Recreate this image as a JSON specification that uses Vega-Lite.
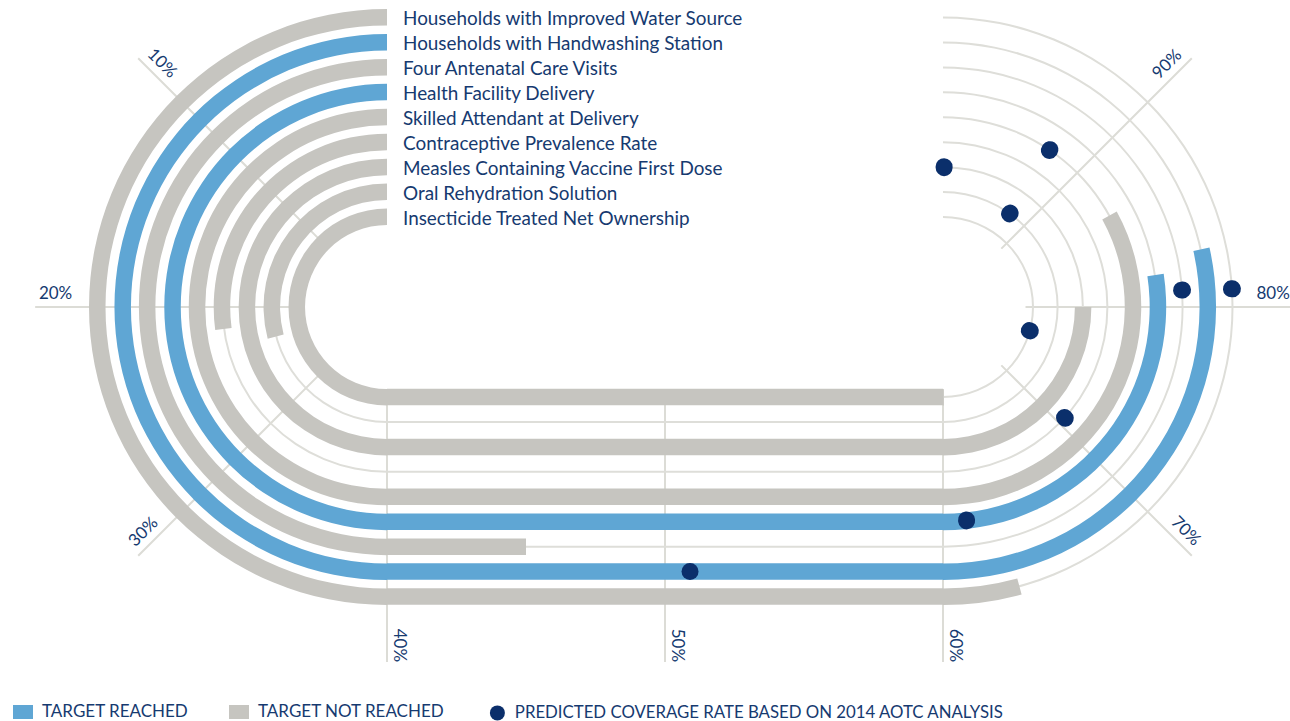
{
  "$schema": "https://vega.github.io/schema/vega-lite/v6.json",
  "width": 1290,
  "height": 614,
  "autosize": {"type": "none"},
  "padding": {"left": 0, "top": 0, "right": 0, "bottom": 107},
  "background": "white",
  "config": {"view": {"stroke": null}, "font": "Lato"},
  "datasets": {
    "tracks": [
      {"track": 1, "indicator": "Households with Improved Water Source", "value": 63.4, "predicted": 80.8, "status": "TARGET NOT REACHED"},
      {"track": 2, "indicator": "Households with Handwashing Station", "value": 82.8, "predicted": 50.9, "status": "TARGET REACHED"},
      {"track": 3, "indicator": "Four Antenatal Care Visits", "value": 45.0, "predicted": 80.9, "status": "TARGET NOT REACHED"},
      {"track": 4, "indicator": "Health Facility Delivery", "value": 81.9, "predicted": 61.4, "status": "TARGET REACHED"},
      {"track": 5, "indicator": "Skilled Attendant at Delivery", "value": 86.4, "predicted": 92.4, "status": "TARGET NOT REACHED"},
      {"track": 6, "indicator": "Contraceptive Prevalence Rate", "value": 21.7, "predicted": 70.6, "status": "TARGET NOT REACHED"},
      {"track": 7, "indicator": "Measles Containing Vaccine First Dose", "value": 80.0, "predicted": 99.9, "status": "TARGET NOT REACHED"},
      {"track": 8, "indicator": "Oral Rehydration Solution", "value": 23.3, "predicted": 92.1, "status": "TARGET NOT REACHED"},
      {"track": 9, "indicator": "Insecticide Treated Net Ownership", "value": 60.1, "predicted": 76.6, "status": "TARGET NOT REACHED"}
    ],
    "ticks": [
      {"pct": 10, "label": "10%"}, {"pct": 20, "label": "20%"}, {"pct": 30, "label": "30%"},
      {"pct": 40, "label": "40%"}, {"pct": 50, "label": "50%"}, {"pct": 60, "label": "60%"},
      {"pct": 70, "label": "70%"}, {"pct": 80, "label": "80%"}, {"pct": 90, "label": "90%"}
    ]
  },
  "resolve": {"scale": {"theta": "independent", "y": "independent"}},
  "layer": [
    {
      "data": {"name": "ticks"},
      "transform": [{"filter": "datum.pct < 40"}],
      "mark": {"type": "arc", "filled": false, "stroke": "#dcdcd6", "strokeWidth": 2},
      "encoding": {
        "x": {"datum": 40, "type": "quantitative", "scale": {"domain": [40, 60], "range": [387, 943], "clamp": true}, "axis": null},
        "theta": {"field": "pct", "type": "quantitative", "stack": null, "scale": {"domain": [0, 40], "range": [0, -3.14159265], "clamp": true}},
        "theta2": {"field": "pct"},
        "radius": {"datum": -1.5, "type": "quantitative", "scale": {"type": "linear", "domain": [1, 9], "range": [289.5, 90], "zero": false}},
        "radius2": {"datum": 9.3}
      }
    },
    {
      "data": {"name": "ticks"},
      "transform": [{"filter": "datum.pct > 60"}],
      "mark": {"type": "arc", "filled": false, "stroke": "#dcdcd6", "strokeWidth": 2},
      "encoding": {
        "x": {"datum": 60, "type": "quantitative", "scale": {"domain": [40, 60], "range": [387, 943], "clamp": true}, "axis": null},
        "theta": {"field": "pct", "type": "quantitative", "stack": null, "scale": {"domain": [60, 100], "range": [3.14159265, 0], "clamp": true}},
        "theta2": {"field": "pct"},
        "radius": {"datum": -1.5, "type": "quantitative", "scale": {"type": "linear", "domain": [1, 9], "range": [289.5, 90], "zero": false}},
        "radius2": {"datum": 9.3}
      }
    },
    {
      "data": {"name": "ticks"},
      "transform": [{"filter": "datum.pct >= 40 && datum.pct <= 60"}],
      "mark": {"type": "rule", "stroke": "#dcdcd6", "strokeWidth": 2},
      "encoding": {
        "x": {"field": "pct", "type": "quantitative", "scale": {"domain": [40, 60], "range": [387, 943], "clamp": true}, "axis": null},
        "y": {"datum": 9.3, "type": "quantitative", "scale": {"domain": [1, 9], "range": [596.5, 397], "zero": false}, "axis": null},
        "y2": {"datum": -1.63}
      }
    },
    {
      "data": {"name": "tracks"},
      "mark": {"type": "arc", "fill": "#deded9", "radiusOffset": 1, "radius2Offset": -1},
      "encoding": {
        "x": {"datum": 40, "type": "quantitative", "scale": {"domain": [40, 60], "range": [387, 943], "clamp": true}, "axis": null},
        "theta": {"datum": 0, "type": "quantitative", "scale": {"domain": [0, 40], "range": [0, -3.14159265], "clamp": true}},
        "theta2": {"datum": 40},
        "radius": {"field": "track", "type": "quantitative", "scale": {"type": "linear", "domain": [1, 9], "range": [289.5, 90], "zero": false}},
        "radius2": {"field": "track"}
      }
    },
    {
      "data": {"name": "tracks"},
      "mark": {"type": "arc", "fill": "#deded9", "radiusOffset": 1, "radius2Offset": -1},
      "encoding": {
        "x": {"datum": 60, "type": "quantitative", "scale": {"domain": [40, 60], "range": [387, 943], "clamp": true}, "axis": null},
        "theta": {"datum": 60, "type": "quantitative", "scale": {"domain": [60, 100], "range": [3.14159265, 0], "clamp": true}},
        "theta2": {"datum": 100},
        "radius": {"field": "track", "type": "quantitative", "scale": {"type": "linear", "domain": [1, 9], "range": [289.5, 90], "zero": false}},
        "radius2": {"field": "track"}
      }
    },
    {
      "data": {"name": "tracks"},
      "mark": {"type": "rule", "stroke": "#deded9", "strokeWidth": 2},
      "encoding": {
        "x": {"datum": 40, "type": "quantitative", "scale": {"domain": [40, 60], "range": [387, 943], "clamp": true}, "axis": null},
        "x2": {"datum": 60},
        "y": {"field": "track", "type": "quantitative", "scale": {"domain": [1, 9], "range": [596.5, 397], "zero": false}, "axis": null}
      }
    },
    {
      "data": {"name": "tracks"},
      "mark": {"type": "arc", "radiusOffset": 8.5, "radius2Offset": -8},
      "encoding": {
        "x": {"datum": 40, "type": "quantitative", "scale": {"domain": [40, 60], "range": [387, 943], "clamp": true}, "axis": null},
        "theta": {"field": "value", "type": "quantitative", "stack": null, "scale": {"domain": [0, 40], "range": [0, -3.14159265], "clamp": true}},
        "theta2": {"datum": 0},
        "radius": {"field": "track", "type": "quantitative", "scale": {"type": "linear", "domain": [1, 9], "range": [289.5, 90], "zero": false}},
        "radius2": {"field": "track"},
        "color": {
          "field": "status", "type": "nominal",
          "scale": {"domain": ["TARGET REACHED", "TARGET NOT REACHED"], "range": ["#5fa6d4", "#c6c5c0"]},
          "legend": {
            "title": null, "orient": "none", "legendX": 13, "legendY": 702, "direction": "horizontal",
            "symbolSize": 400, "symbolType": "M-1,-0.7H1V0.7H-1Z", "symbolStrokeWidth": 0, "symbolOpacity": 1,
            "labelFont": "Lato", "labelFontSize": 17, "labelColor": "#163a70",
            "labelOffset": 9, "columnPadding": 40, "labelLimit": 900, "padding": 0
          }
        }
      }
    },
    {
      "data": {"name": "tracks"},
      "transform": [{"filter": "datum.value > 40"}],
      "mark": {"type": "rule", "strokeWidth": 16.5, "strokeCap": "butt"},
      "encoding": {
        "x": {"field": "value", "type": "quantitative", "scale": {"domain": [40, 60], "range": [387, 943], "clamp": true}, "axis": null},
        "x2": {"datum": 40},
        "y": {"field": "track", "type": "quantitative", "scale": {"domain": [1, 9], "range": [596.5, 397], "zero": false}, "axis": null},
        "stroke": {"field": "status", "type": "nominal", "scale": {"domain": ["TARGET REACHED", "TARGET NOT REACHED"], "range": ["#5fa6d4", "#c6c5c0"]}, "legend": null}
      }
    },
    {
      "data": {"name": "tracks"},
      "transform": [{"filter": "datum.value > 60"}],
      "mark": {"type": "arc", "radiusOffset": 8.5, "radius2Offset": -8},
      "encoding": {
        "x": {"datum": 60, "type": "quantitative", "scale": {"domain": [40, 60], "range": [387, 943], "clamp": true}, "axis": null},
        "theta": {"field": "value", "type": "quantitative", "stack": null, "scale": {"domain": [60, 100], "range": [3.14159265, 0], "clamp": true}},
        "theta2": {"datum": 60},
        "radius": {"field": "track", "type": "quantitative", "scale": {"type": "linear", "domain": [1, 9], "range": [289.5, 90], "zero": false}},
        "radius2": {"field": "track"},
        "color": {
          "field": "status", "type": "nominal",
          "scale": {"domain": ["TARGET REACHED", "TARGET NOT REACHED"], "range": ["#5fa6d4", "#c6c5c0"]},
          "legend": {
            "title": null, "orient": "none", "legendX": 13, "legendY": 702, "direction": "horizontal",
            "symbolSize": 400, "symbolType": "M-1,-0.7H1V0.7H-1Z", "symbolStrokeWidth": 0, "symbolOpacity": 1,
            "labelFont": "Lato", "labelFontSize": 17, "labelColor": "#163a70",
            "labelOffset": 9, "columnPadding": 40, "labelLimit": 900, "padding": 0
          }
        }
      }
    },
    {
      "data": {"name": "tracks"},
      "transform": [{"filter": "datum.predicted >= 40 && datum.predicted < 60"}],
      "mark": {"type": "point", "filled": true, "size": 289, "color": "#0b2f6b", "opacity": 1},
      "encoding": {
        "x": {"field": "predicted", "type": "quantitative", "scale": {"domain": [40, 60], "range": [387, 943], "clamp": true}, "axis": null},
        "y": {"field": "track", "type": "quantitative", "scale": {"domain": [1, 9], "range": [596.5, 397], "zero": false}, "axis": null},
        "shape": {
          "datum": "PREDICTED COVERAGE RATE BASED ON 2014 AOTC ANALYSIS", "type": "nominal",
          "scale": {"range": ["circle"]},
          "legend": {
            "title": null, "orient": "none", "legendX": 489, "legendY": 704.5, "direction": "horizontal",
            "symbolSize": 225, "symbolFillColor": "#0b2f6b", "symbolStrokeWidth": 0, "symbolOpacity": 1,
            "labelFont": "Lato", "labelFontSize": 16.8, "labelColor": "#163a70",
            "labelOffset": 9, "labelLimit": 900, "padding": 0
          }
        }
      }
    },
    {
      "data": {"name": "tracks"},
      "transform": [{"filter": "datum.predicted >= 60"}],
      "mark": {"type": "arc", "fill": "#0b2f6b", "stroke": "#0b2f6b", "strokeWidth": 17, "strokeCap": "round", "strokeJoin": "round", "radiusOffset": 0.5, "radius2Offset": -0.5},
      "encoding": {
        "x": {"datum": 60, "type": "quantitative", "scale": {"domain": [40, 60], "range": [387, 943], "clamp": true}, "axis": null},
        "theta": {"field": "predicted", "type": "quantitative", "stack": null, "scale": {"domain": [60, 100], "range": [3.14159265, 0], "clamp": true}},
        "theta2": {"field": "predicted"},
        "radius": {"field": "track", "type": "quantitative", "scale": {"type": "linear", "domain": [1, 9], "range": [289.5, 90], "zero": false}},
        "radius2": {"field": "track"}
      }
    },
    {
      "data": {"name": "ticks"},
      "transform": [{"filter": "datum.pct < 40"}],
      "mark": {"type": "text", "font": "Lato", "fontSize": 17, "color": "#163a70", "align": "left", "baseline": "alphabetic", "dy": -8},
      "encoding": {
        "x": {"datum": 40, "type": "quantitative", "scale": {"domain": [40, 60], "range": [387, 943], "clamp": true}, "axis": null},
        "theta": {"field": "pct", "type": "quantitative", "stack": null, "scale": {"domain": [0, 40], "range": [0, -3.14159265], "clamp": true}},
        "radius": {"datum": -1.35, "type": "quantitative", "scale": {"type": "linear", "domain": [1, 9], "range": [289.5, 90], "zero": false}},
        "angle": {"field": "pct", "type": "quantitative", "scale": {"domain": [10, 30, 70, 90], "range": [45, -45, 45, -45]}, "legend": null},
        "text": {"field": "label", "type": "nominal"}
      }
    },
    {
      "data": {"name": "ticks"},
      "transform": [{"filter": "datum.pct > 60"}],
      "mark": {"type": "text", "font": "Lato", "fontSize": 17, "color": "#163a70", "align": "right", "baseline": "alphabetic", "dy": -8},
      "encoding": {
        "x": {"datum": 60, "type": "quantitative", "scale": {"domain": [40, 60], "range": [387, 943], "clamp": true}, "axis": null},
        "theta": {"field": "pct", "type": "quantitative", "stack": null, "scale": {"domain": [60, 100], "range": [3.14159265, 0], "clamp": true}},
        "radius": {"datum": -1.3, "type": "quantitative", "scale": {"type": "linear", "domain": [1, 9], "range": [289.5, 90], "zero": false}},
        "angle": {"field": "pct", "type": "quantitative", "scale": {"domain": [10, 30, 70, 90], "range": [45, -45, 45, -45]}, "legend": null},
        "text": {"field": "label", "type": "nominal"}
      }
    },
    {
      "data": {"name": "ticks"},
      "transform": [{"filter": "datum.pct >= 40 && datum.pct <= 60"}],
      "mark": {"type": "text", "font": "Lato", "fontSize": 17, "color": "#163a70", "align": "right", "baseline": "alphabetic", "angle": 90, "dy": -7},
      "encoding": {
        "x": {"field": "pct", "type": "quantitative", "scale": {"domain": [40, 60], "range": [387, 943], "clamp": true}, "axis": null},
        "y": {"datum": -1.63, "type": "quantitative", "scale": {"domain": [1, 9], "range": [596.5, 397], "zero": false}, "axis": null},
        "text": {"field": "label", "type": "nominal"}
      }
    },
    {
      "data": {"name": "tracks"},
      "mark": {"type": "text", "font": "Lato", "fontSize": 18.9, "color": "#163a70", "align": "left", "baseline": "middle", "dx": 16, "dy": 1.5},
      "encoding": {
        "x": {"datum": 40, "type": "quantitative", "scale": {"domain": [40, 60], "range": [387, 943], "clamp": true}, "axis": null},
        "y": {"field": "track", "type": "quantitative", "scale": {"domain": [1, 9], "range": [17.5, 217], "zero": false}, "axis": null},
        "text": {"field": "indicator", "type": "nominal"}
      }
    }
  ]
}
